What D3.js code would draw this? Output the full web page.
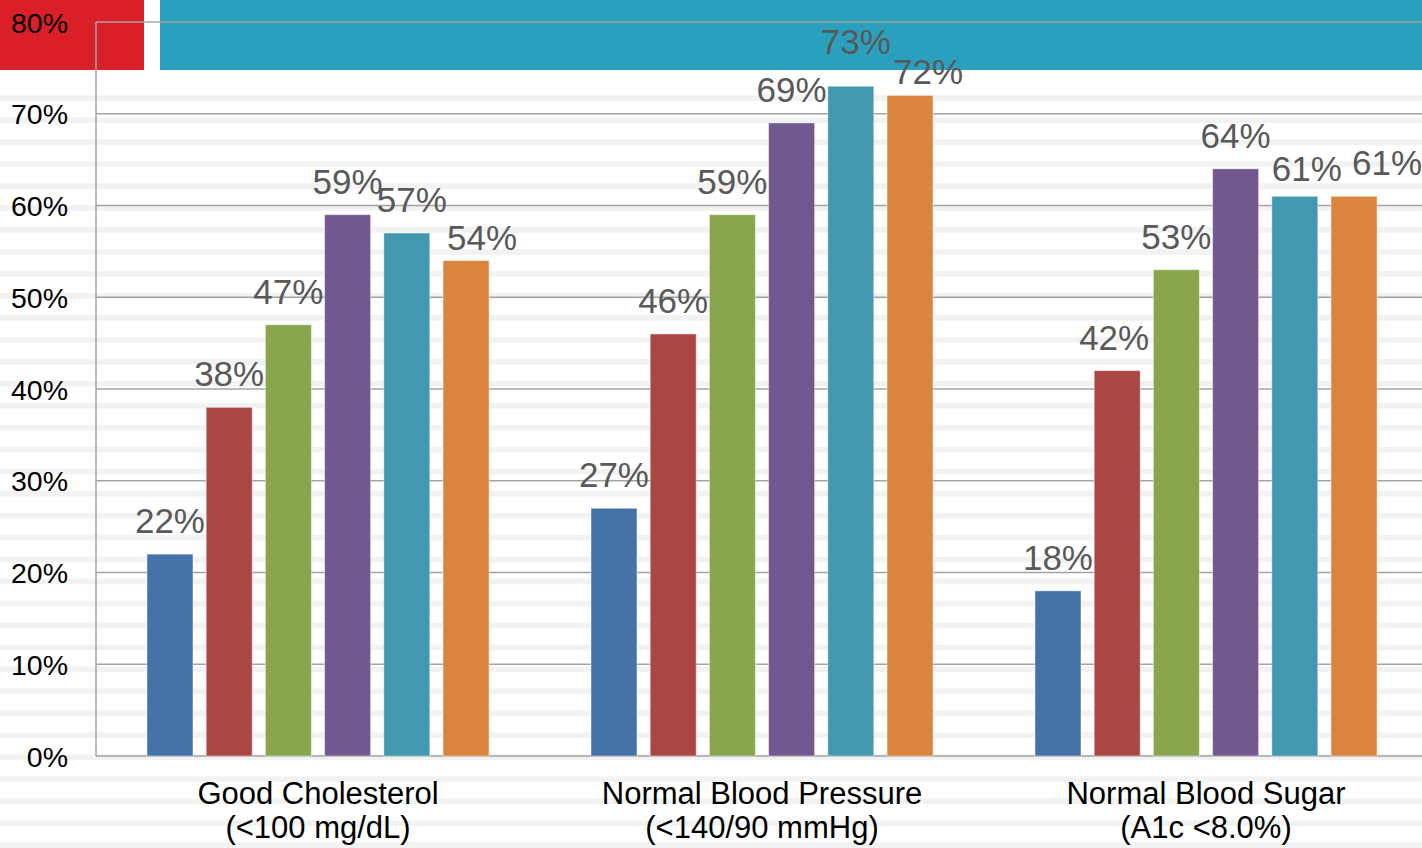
<!DOCTYPE html>
<html>
<head>
<meta charset="utf-8">
<script src="https://cdn.jsdelivr.net/npm/d3@7/dist/d3.min.js"></script>
<style>
  html, body { margin: 0; padding: 0; background: #ffffff; }
  svg { display: block; }
  text { font-family: "Liberation Sans", Arial, sans-serif; }
</style>
</head>
<body>
<svg id="chart" width="1422" height="848"></svg>
<script>
// Category labels (two lines each)
const categories = ["Good Cholesterol", "Normal Blood Pressure", "Normal Blood Sugar"];
const categorySubLabels = ["(<100 mg/dL)", "(<140/90 mmHg)", "(A1c <8.0%)"];

// Series, in drawing order within each group
const seriesNames = ["Series 1", "Series 2", "Series 3", "Series 4", "Series 5", "Series 6"];
const seriesColors = ["#4572a7", "#aa4643", "#89a54e", "#71588f", "#4198af", "#db843d"];

// Percent values: one row per category, one entry per series
const goodCholesterol = [22, 38, 47, 59, 57, 54];
const normalBloodPressure = [27, 46, 59, 69, 73, 72];
const normalBloodSugar = [18, 42, 53, 64, 61, 61];
const values = [goodCholesterol, normalBloodPressure, normalBloodSugar];

// Y-axis ticks
const yTicks = [0, 10, 20, 30, 40, 50, 60, 70, 80];

// Label nudges where neighbouring value labels would collide [category, series, dx, dy]
const labelNudges = [
  [0, 4, 5, 0], [0, 5, 16, 10],
  [1, 4, 5, -11], [1, 5, 18, 10],
  [2, 1, -3, 0], [2, 4, 12, 6], [2, 5, 33, 0]
];

const W = 1422, H = 848;
const svg = d3.select("#chart");

// Slide background: white with thin horizontal pinstripes
svg.append("rect").attr("width", W).attr("height", H).attr("fill", "#ffffff");
const stripeStart = 95.3, stripeStep = 21.97;
const stripeRows = d3.range(stripeStart, H, stripeStep);
svg.append("g").selectAll("rect").data(stripeRows).join("rect")
  .attr("x", 0).attr("y", d => d).attr("width", W).attr("height", 5.7)
  .attr("fill", "#f2f2f2");

// Header bars
svg.append("rect").attr("x", 0).attr("y", 0).attr("width", 144).attr("height", 70).attr("fill", "#da1f28");
svg.append("rect").attr("x", 160).attr("y", 0).attr("width", W - 160).attr("height", 70).attr("fill", "#2aa0bf");

// Scales
const plotLeft = 96, plotRight = 1428, plotTop = 22, plotBottom = 756;
const y = d3.scaleLinear().domain([0, 80]).range([plotBottom, plotTop]);
const x0 = d3.scaleBand().domain(d3.range(categories.length)).range([plotLeft, plotRight]).padding(0);
const x1 = d3.scaleBand().domain(d3.range(seriesNames.length)).range([0, x0.bandwidth()])
  .paddingInner(0.223).paddingOuter(0.861);

// Gridlines
svg.append("g").selectAll("line").data(yTicks).join("line")
  .attr("x1", plotLeft).attr("x2", W)
  .attr("y1", d => y(d)).attr("y2", d => y(d))
  .attr("stroke", "#a3a3a3").attr("stroke-width", 1.5);

// Vertical axis line
svg.append("line")
  .attr("x1", plotLeft).attr("x2", plotLeft)
  .attr("y1", y(80)).attr("y2", y(0))
  .attr("stroke", "#a3a3a3").attr("stroke-width", 1.5);

// Y tick labels via d3 axis (line parts hidden; gridlines drawn above)
const yAxis = d3.axisLeft(y).tickValues(yTicks).tickFormat(d => d + "%").tickSize(0).tickPadding(0);
const yAxisG = svg.append("g").attr("transform", "translate(68,0)").call(yAxis);
yAxisG.select(".domain").remove();
yAxisG.selectAll("text")
  .attr("font-family", "Liberation Sans, Arial, sans-serif")
  .attr("font-size", 28.5).attr("fill", "#000000")
  .attr("dy", null).attr("y", 10);

// Bars
const flat = [];
values.forEach((row, ci) => row.forEach((v, si) => flat.push({ ci, si, v })));

svg.append("g").selectAll("rect").data(flat).join("rect")
  .attr("x", d => x0(d.ci) + x1(d.si))
  .attr("y", d => y(d.v))
  .attr("width", x1.bandwidth())
  .attr("height", d => y(0) - y(d.v))
  .attr("fill", d => seriesColors[d.si])
  .attr("stroke", "rgba(255,255,255,0.45)")
  .attr("stroke-width", 1);

// Value labels
const nudge = (ci, si) => {
  const n = labelNudges.find(a => a[0] === ci && a[1] === si);
  return n ? [n[2], n[3]] : [0, 0];
};
svg.append("g").selectAll("text").data(flat).join("text")
  .attr("x", d => x0(d.ci) + x1(d.si) + x1.bandwidth() / 2 + nudge(d.ci, d.si)[0])
  .attr("y", d => y(d.v) - 21 + nudge(d.ci, d.si)[1])
  .attr("text-anchor", "middle")
  .attr("font-size", 35)
  .attr("fill", "#595959")
  .text(d => d.v + "%");

// Category labels
const catG = svg.append("g").selectAll("text").data(categories).join("text")
  .attr("text-anchor", "middle")
  .attr("font-size", 31)
  .attr("fill", "#000000")
  .attr("transform", (d, i) => `translate(${x0(i) + x0.bandwidth() / 2},0)`);
catG.append("tspan").attr("x", 0).attr("y", 804).text(d => d);
catG.append("tspan").attr("x", 0).attr("y", 838).text((d, i) => categorySubLabels[i]);
</script>
</body>
</html>
